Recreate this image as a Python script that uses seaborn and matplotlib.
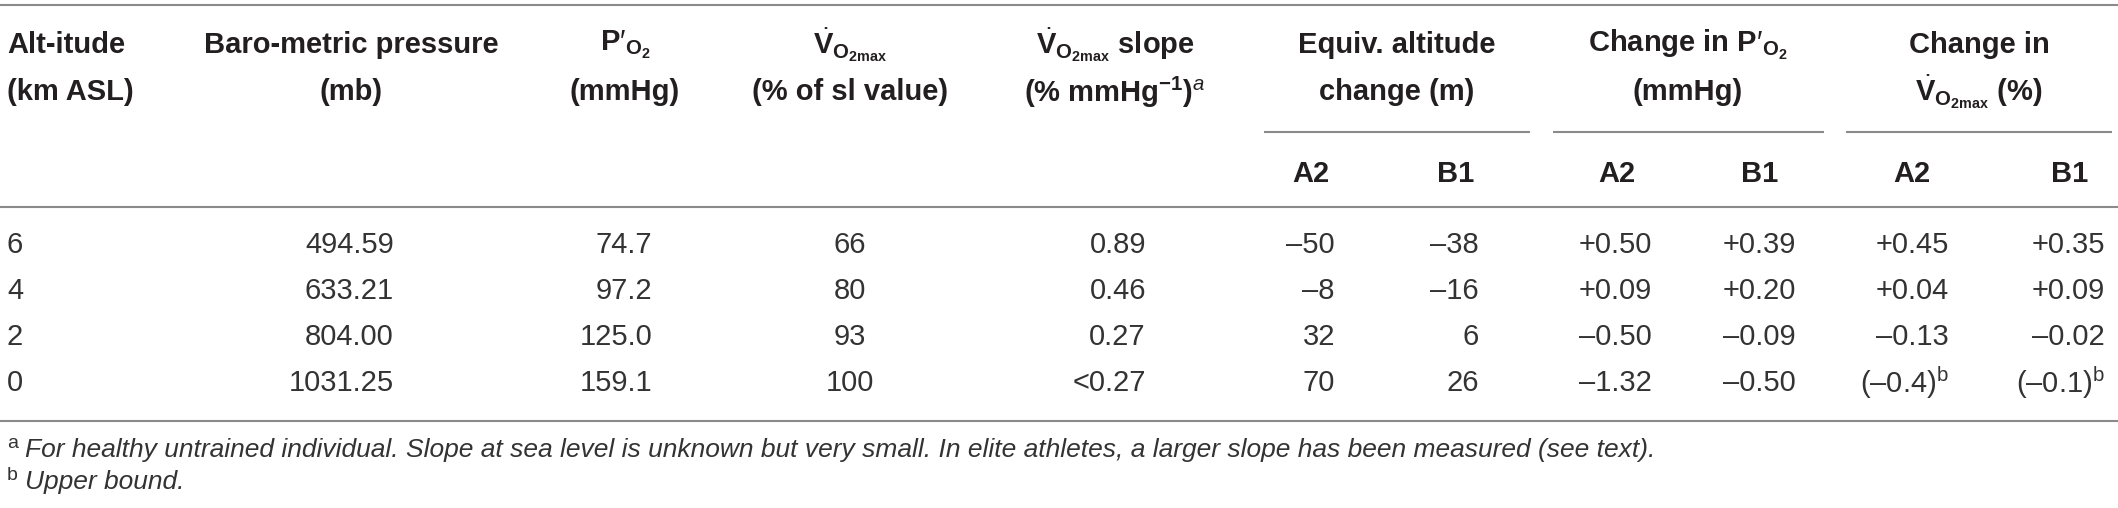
import matplotlib
matplotlib.use("Agg")
import matplotlib.pyplot as plt
import seaborn as sns

sns.set_theme(style="white")
plt.rcParams["font.family"] = ["Liberation Sans", "DejaVu Sans"]
plt.rcParams["mathtext.fontset"] = "custom"
plt.rcParams["mathtext.rm"] = "Liberation Sans"
plt.rcParams["mathtext.it"] = "Liberation Sans:italic"
plt.rcParams["mathtext.bf"] = "Liberation Sans:bold"

# ---- table data -------------------------------------------------------
altitude = ["6", "4", "2", "0"]
pressure = ["494.59", "633.21", "804.00", "1031.25"]
po2 = ["74.7", "97.2", "125.0", "159.1"]
vo2max = ["66", "80", "93", "100"]
slope = ["0.89", "0.46", "0.27", "<0.27"]
equiv_a2 = ["–50", "–8", "32", "70"]
equiv_b1 = ["–38", "–16", "6", "26"]
dpo2_a2 = ["+0.50", "+0.09", "–0.50", "–1.32"]
dpo2_b1 = ["+0.39", "+0.20", "–0.09", "–0.50"]
dvo2_a2 = ["+0.45", "+0.04", "–0.13", r"(–0.4)$^{\mathrm{b}}$"]
dvo2_b1 = ["+0.35", "+0.09", "–0.02", r"(–0.1)$^{\mathrm{b}}$"]

VDOT = r"$\dot{\mathbf{V}}_{\mathbf{O}_{\mathbf{2max}}}$"
PO2 = r"$\mathbf{P}\prime_{\mathbf{O}_{\mathbf{2}}}$"
headers = [
    ("Alt-itude", "(km ASL)"),
    ("Baro-metric pressure", "(mb)"),
    (PO2, "(mmHg)"),
    (VDOT, "(% of sl value)"),
    (VDOT + " slope", r"(% mmHg$^{\mathbf{-1}}$)$^{\mathit{a}}$"),
]
group_headers = [
    ("Equiv. altitude", "change (m)"),
    ("Change in " + PO2, "(mmHg)"),
    ("Change in", VDOT + " (%)"),
]
sub_headers = ["A2", "B1"]
footnotes = [
    ("a", "For healthy untrained individual. Slope at sea level is unknown but "
          "very small. In elite athletes, a larger slope has been measured (see text)."),
    ("b", "Upper bound."),
]

# ---- layout (pixels) --------------------------------------------------
W, H = 2118, 508
INK = "#231f20"
DATA_INK = "#333333"
RULE = "#8a8a8a"
FS = 21

fig = plt.figure(figsize=(W / 100, H / 100), dpi=100)
ax = fig.add_axes([0, 0, 1, 1])
ax.set_xlim(0, W)
ax.set_ylim(H, 0)
ax.axis("off")

y_h1, y_h2, y_sub = 45, 92, 174
row_y = [245, 291, 337, 383]

# simple columns: (header x, header ha, data x, data ha)
simple_cols = [
    (7, "left", 7, "left", altitude),
    (351, "center", 394, "right", pressure),
    (625, "center", 652, "right", po2),
    (850, "center", 850, "center", vo2max),
    (1115, "center", 1146, "right", slope),
]
for (l1, l2), (hx, hha, dx, dha, vals) in zip(headers, simple_cols):
    ax.text(hx, y_h1, l1, ha=hha, va="center", fontsize=FS, fontweight="bold", color=INK)
    ax.text(hx, y_h2, l2, ha=hha, va="center", fontsize=FS, fontweight="bold", color=INK)
    for y, v in zip(row_y, vals):
        ax.text(dx, y, v, ha=dha, va="center", fontsize=FS, color=DATA_INK)

# grouped columns
groups = [
    (1397, (1264, 1530), (1311, 1456), (1335, 1479), (equiv_a2, equiv_b1)),
    (1688, (1553, 1824), (1617, 1760), (1652, 1796), (dpo2_a2, dpo2_b1)),
    (1979, (1846, 2112), (1912, 2070), (1949, 2105), (dvo2_a2, dvo2_b1)),
]
for (l1, l2), (gx, (r0, r1), subx, datx, series) in zip(group_headers, groups):
    ax.text(gx, y_h1, l1, ha="center", va="center", fontsize=FS, fontweight="bold", color=INK)
    ax.text(gx, y_h2, l2, ha="center", va="center", fontsize=FS, fontweight="bold", color=INK)
    ax.hlines(132, r0, r1, color=RULE, lw=1.5)
    for sx, name in zip(subx, sub_headers):
        ax.text(sx, y_sub, name, ha="center", va="center", fontsize=FS, fontweight="bold", color=INK)
    for dx, vals in zip(datx, series):
        for y, v in zip(row_y, vals):
            ax.text(dx, y, v, ha="right", va="center", fontsize=FS, color=DATA_INK)

# rules
for y in (5, 207, 421):
    ax.hlines(y, 0, W, color=RULE, lw=1.5)

# footnotes
for y, (mark, txt) in zip((450, 482), footnotes):
    ax.text(7, y - 7, mark, ha="left", va="center", fontsize=14, color=DATA_INK)
    ax.text(25, y, txt, ha="left", va="center", fontsize=19, style="italic", color=DATA_INK)

fig.savefig("out.png", dpi=100)
